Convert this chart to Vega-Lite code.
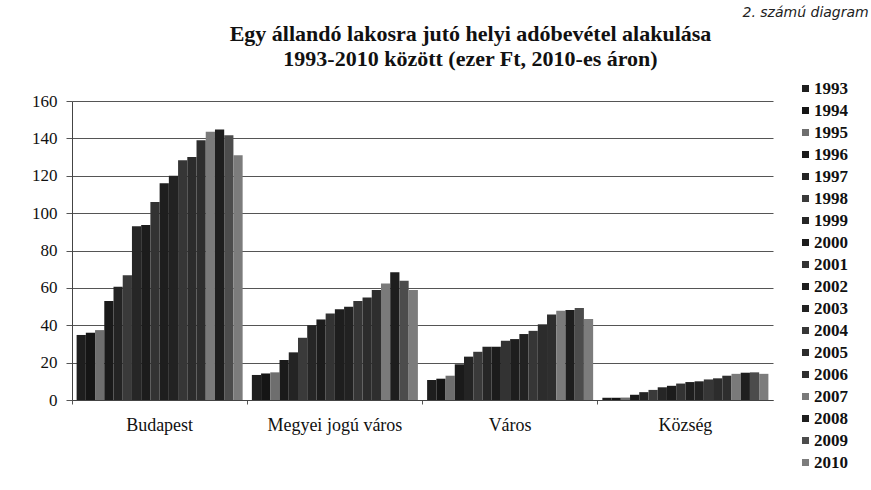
{
  "$schema": "https://vega.github.io/schema/vega-lite/v6.json",
  "autosize": {"type": "none"},
  "width": 701,
  "height": 299,
  "padding": {"left": 72, "top": 101, "right": 98, "bottom": 90},
  "background": "white",
  "title": {
    "text": ["Egy állandó lakosra jutó helyi adóbevétel alakulása", "1993-2010 között (ezer Ft, 2010-es áron)"],
    "font": "Liberation Serif",
    "fontSize": 22,
    "fontWeight": "bold",
    "color": "#111",
    "lineHeight": 25,
    "anchor": "middle",
    "frame": "group",
    "dx": 48,
    "dy": 92,
    "offset": 26
  },
  "data": {
    "values": [
      {"t": "Budapest", "ev": "1993", "v": 34.8},
      {"t": "Budapest", "ev": "1994", "v": 36},
      {"t": "Budapest", "ev": "1995", "v": 37.4},
      {"t": "Budapest", "ev": "1996", "v": 53},
      {"t": "Budapest", "ev": "1997", "v": 60.6},
      {"t": "Budapest", "ev": "1998", "v": 66.8},
      {"t": "Budapest", "ev": "1999", "v": 93},
      {"t": "Budapest", "ev": "2000", "v": 93.6},
      {"t": "Budapest", "ev": "2001", "v": 106},
      {"t": "Budapest", "ev": "2002", "v": 116},
      {"t": "Budapest", "ev": "2003", "v": 120},
      {"t": "Budapest", "ev": "2004", "v": 128.3},
      {"t": "Budapest", "ev": "2005", "v": 130},
      {"t": "Budapest", "ev": "2006", "v": 139},
      {"t": "Budapest", "ev": "2007", "v": 143.5},
      {"t": "Budapest", "ev": "2008", "v": 144.7},
      {"t": "Budapest", "ev": "2009", "v": 141.7},
      {"t": "Budapest", "ev": "2010", "v": 131},
      {"t": "Megyei jogú város", "ev": "1993", "v": 13.4},
      {"t": "Megyei jogú város", "ev": "1994", "v": 14.2},
      {"t": "Megyei jogú város", "ev": "1995", "v": 14.8},
      {"t": "Megyei jogú város", "ev": "1996", "v": 21.4},
      {"t": "Megyei jogú város", "ev": "1997", "v": 25.5},
      {"t": "Megyei jogú város", "ev": "1998", "v": 33.3},
      {"t": "Megyei jogú város", "ev": "1999", "v": 40},
      {"t": "Megyei jogú város", "ev": "2000", "v": 43.1},
      {"t": "Megyei jogú város", "ev": "2001", "v": 46.3},
      {"t": "Megyei jogú város", "ev": "2002", "v": 48.6},
      {"t": "Megyei jogú város", "ev": "2003", "v": 49.9},
      {"t": "Megyei jogú város", "ev": "2004", "v": 53},
      {"t": "Megyei jogú város", "ev": "2005", "v": 54.9},
      {"t": "Megyei jogú város", "ev": "2006", "v": 58.8},
      {"t": "Megyei jogú város", "ev": "2007", "v": 62.4},
      {"t": "Megyei jogú város", "ev": "2008", "v": 68.3},
      {"t": "Megyei jogú város", "ev": "2009", "v": 63.8},
      {"t": "Megyei jogú város", "ev": "2010", "v": 58.8},
      {"t": "Város", "ev": "1993", "v": 10.7},
      {"t": "Város", "ev": "1994", "v": 11.4},
      {"t": "Város", "ev": "1995", "v": 13},
      {"t": "Város", "ev": "1996", "v": 19.1},
      {"t": "Város", "ev": "1997", "v": 23.2},
      {"t": "Város", "ev": "1998", "v": 25.8},
      {"t": "Város", "ev": "1999", "v": 28.5},
      {"t": "Város", "ev": "2000", "v": 28.5},
      {"t": "Város", "ev": "2001", "v": 31.7},
      {"t": "Város", "ev": "2002", "v": 32.6},
      {"t": "Város", "ev": "2003", "v": 35.3},
      {"t": "Város", "ev": "2004", "v": 37},
      {"t": "Város", "ev": "2005", "v": 40.5},
      {"t": "Város", "ev": "2006", "v": 45.8},
      {"t": "Város", "ev": "2007", "v": 47.8},
      {"t": "Város", "ev": "2008", "v": 48.1},
      {"t": "Város", "ev": "2009", "v": 49.2},
      {"t": "Város", "ev": "2010", "v": 43.3},
      {"t": "Község", "ev": "1993", "v": 1.2},
      {"t": "Község", "ev": "1994", "v": 1.2},
      {"t": "Község", "ev": "1995", "v": 1.3},
      {"t": "Község", "ev": "1996", "v": 2.8},
      {"t": "Község", "ev": "1997", "v": 4.2},
      {"t": "Község", "ev": "1998", "v": 5.4},
      {"t": "Község", "ev": "1999", "v": 6.8},
      {"t": "Község", "ev": "2000", "v": 7.6},
      {"t": "Község", "ev": "2001", "v": 8.8},
      {"t": "Község", "ev": "2002", "v": 9.6},
      {"t": "Község", "ev": "2003", "v": 10},
      {"t": "Község", "ev": "2004", "v": 11},
      {"t": "Község", "ev": "2005", "v": 11.6},
      {"t": "Község", "ev": "2006", "v": 13},
      {"t": "Község", "ev": "2007", "v": 14},
      {"t": "Község", "ev": "2008", "v": 14.6},
      {"t": "Község", "ev": "2009", "v": 14.8},
      {"t": "Község", "ev": "2010", "v": 14}
    ]
  },
  "mark": {"type": "bar", "opacity": 1},
  "encoding": {
    "x": {
      "field": "t",
      "type": "nominal",
      "sort": ["Budapest", "Megyei jogú város", "Város", "Község"],
      "scale": {"paddingInner": 0, "paddingOuter": 0},
      "axis": {
        "title": null,
        "labelAngle": 0,
        "bandPosition": 0,
        "labelFont": "Liberation Serif",
        "labelFontSize": 18,
        "labelColor": "#111",
        "labelPadding": 12,
        "tickSize": 4,
        "tickColor": "#555",
        "domainColor": "#444",
        "grid": false
      }
    },
    "xOffset": {
      "field": "ev",
      "type": "nominal",
      "scale": {"paddingInner": 0, "paddingOuter": 0.5}
    },
    "y": {
      "field": "v",
      "type": "quantitative",
      "scale": {"domain": [0, 160], "nice": false},
      "axis": {
        "values": [0, 20, 40, 60, 80, 100, 120, 140, 160],
        "title": "2. számú diagram",
        "titleAngle": 0,
        "titleX": 670,
        "titleY": -85,
        "titleAlign": "left",
        "titleBaseline": "alphabetic",
        "titleFont": "DejaVu Sans",
        "titleFontStyle": "italic",
        "titleFontWeight": "normal",
        "titleFontSize": 14,
        "titleColor": "#222",
        "labelFont": "Liberation Serif",
        "labelFontSize": 17,
        "labelColor": "#111",
        "labelPadding": 9,
        "tickSize": 6,
        "tickColor": "#555",
        "domainColor": "#444",
        "gridColor": "#555",
        "gridWidth": 1
      }
    },
    "color": {
      "field": "ev",
      "type": "nominal",
      "scale": {
        "domain": ["1993","1994","1995","1996","1997","1998","1999","2000","2001","2002","2003","2004","2005","2006","2007","2008","2009","2010"],
        "range": ["#1e1e1e","#151515","#6e6e6e","#1a1a1a","#242424","#3a3a3a","#262626","#1c1c1c","#333333","#1e1e1e","#222222","#363636","#2c2c2c","#2e2e2e","#7a7a7a","#1e1e1e","#4c4c4c","#7c7c7c"]
      },
      "legend": {
        "title": null,
        "orient": "none",
        "legendX": 725,
        "legendY": -21,
        "symbolType": "square",
        "symbolSize": 49,
        "symbolStrokeWidth": 0,
        "labelFont": "Liberation Serif",
        "labelFontSize": 17,
        "labelFontWeight": "bold",
        "labelColor": "#111",
        "labelOffset": 0,
        "rowPadding": 4
      }
    }
  },
  "config": {
    "view": {"stroke": null},
    "axis": {"labelFontWeight": "normal"}
  }
}
